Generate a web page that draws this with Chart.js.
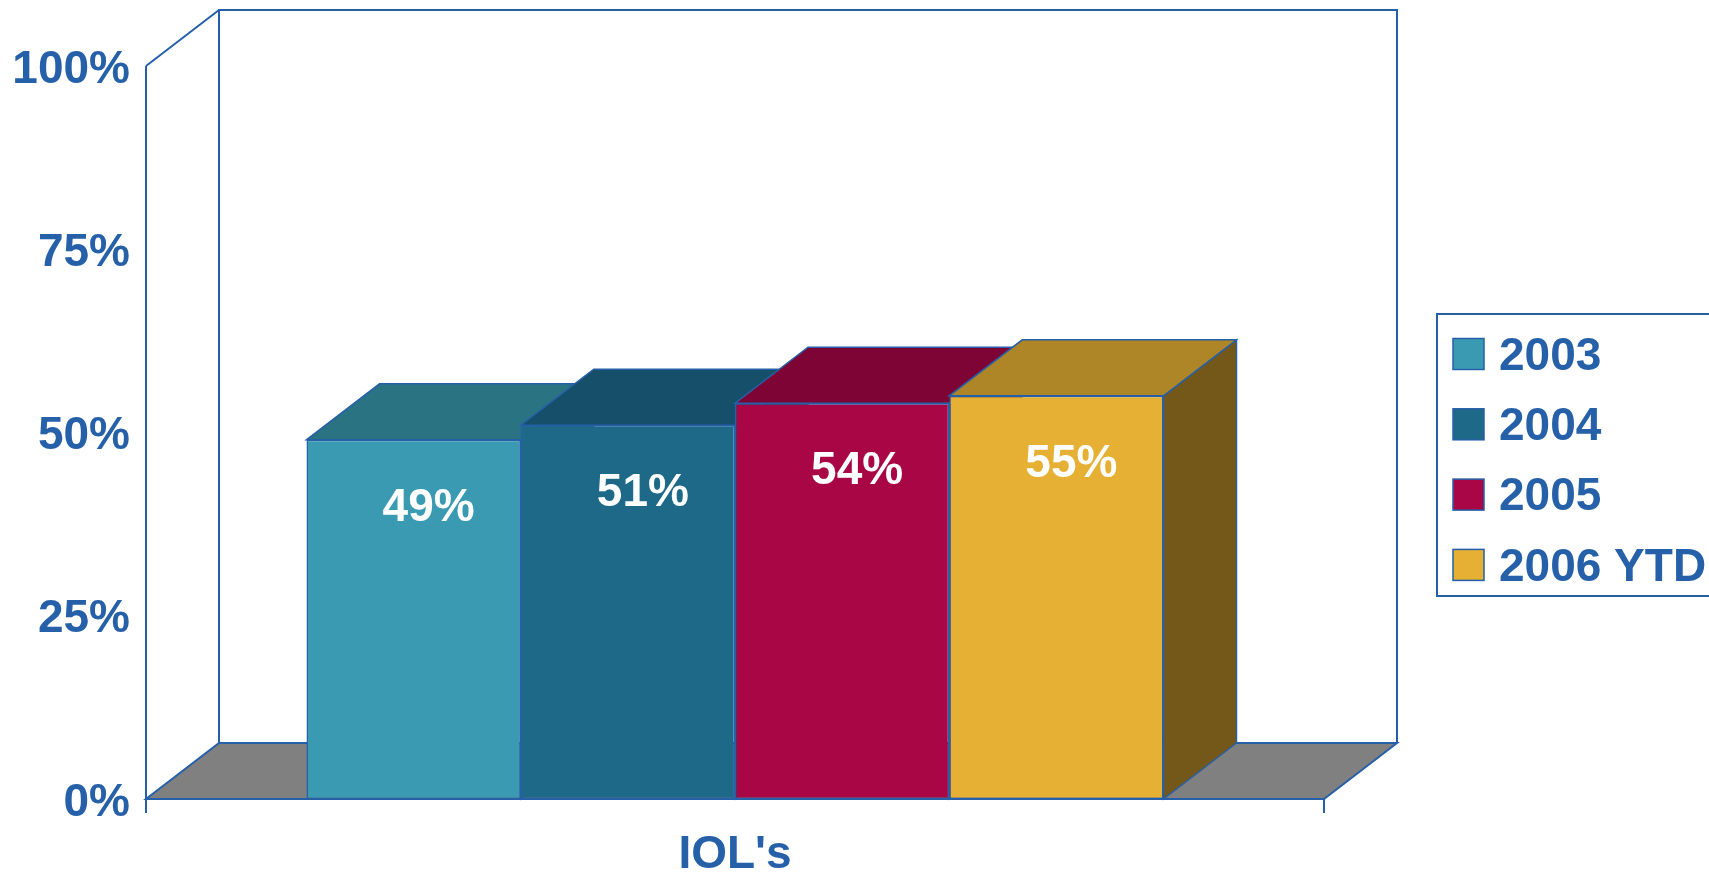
<!DOCTYPE html>
<html>
<head>
<meta charset="utf-8">
<title>IOL's</title>
<script src="https://cdn.jsdelivr.net/npm/chart.js@4.4.1/dist/chart.umd.min.js"></script>
<style>
  html, body { margin: 0; padding: 0; background: #ffffff; overflow: hidden; }
  canvas { display: block; }
</style>
</head>
<body>
<canvas id="chart" width="1709" height="872"></canvas>
<script>
// データ
const categories = ["IOL's"];
const seriesNames = ['2003', '2004', '2005', '2006 YTD'];
const seriesValues = [49, 51, 54, 55];
const yTicks = [0, 25, 50, 75, 100];

// 色
const frontColors = ['#3A9AB2', '#1E6888', '#A80644', '#E5B034'];
const topColors = ['#2A7383', '#164F6A', '#7E0436', '#AE8627'];
const sideColors = ['#236373', '#12405A', '#66032C', '#73581A'];
const lineColor = '#2560A8';
const floorColor = '#808080';
const fontFamily = '"Liberation Sans", Arial, Helvetica, sans-serif';

// 奥行き
const DX = 73;
const DY = 56;

function poly(ctx, pts, fill) {
    ctx.beginPath();
    ctx.moveTo(pts[0][0], pts[0][1]);
    for (let i = 1; i < pts.length; i++) ctx.lineTo(pts[i][0], pts[i][1]);
    ctx.closePath();
    if (fill) {
        ctx.fillStyle = fill;
        ctx.fill();
    }
    ctx.stroke();
}

// 壁・床・棒の上面と側面
const box3d = {
    id: 'box3d',
    beforeDatasetsDraw(chart) {
        const { ctx, chartArea: a } = chart;
        ctx.save();
        ctx.strokeStyle = lineColor;
        ctx.lineWidth = 2;
        ctx.lineJoin = 'miter';

        // 床
        poly(ctx, [
            [a.left, a.bottom], [a.right, a.bottom],
            [a.right + DX, a.bottom - DY], [a.left + DX, a.bottom - DY]
        ], floorColor);

        ctx.beginPath();
        // 奥の壁
        ctx.moveTo(a.left + DX, a.bottom - DY);
        ctx.lineTo(a.left + DX, a.top - DY);
        ctx.lineTo(a.right + DX, a.top - DY);
        ctx.lineTo(a.right + DX, a.bottom - DY);
        // 左の壁
        ctx.moveTo(a.left, a.top);
        ctx.lineTo(a.left + DX, a.top - DY);
        // 縦軸と目盛り
        ctx.moveTo(a.left, a.top);
        ctx.lineTo(a.left, a.bottom + 14);
        ctx.moveTo(a.right, a.bottom);
        ctx.lineTo(a.right, a.bottom + 14);
        ctx.stroke();

        ctx.lineWidth = 1.5;
        chart.data.datasets.forEach((ds, i) => {
            const bar = chart.getDatasetMeta(i).data[0];
            const { x, y, base, width } = bar.getProps(['x', 'y', 'base', 'width'], true);
            const x0 = x - width / 2;
            const x1 = x + width / 2;
            poly(ctx, [[x1, y], [x1 + DX, y - DY], [x1 + DX, base - DY], [x1, base]], sideColors[i]);
            poly(ctx, [[x0, y], [x1, y], [x1 + DX, y - DY], [x0 + DX, y - DY]], topColors[i]);
        });
        ctx.restore();
    },
    afterDatasetsDraw(chart) {
        const { ctx } = chart;
        ctx.save();
        ctx.fillStyle = '#ffffff';
        ctx.font = 'bold 46px ' + fontFamily;
        ctx.textAlign = 'center';
        ctx.textBaseline = 'middle';
        chart.data.datasets.forEach((ds, i) => {
            const bar = chart.getDatasetMeta(i).data[0];
            const { x, y } = bar.getProps(['x', 'y'], true);
            ctx.fillText(ds.data[0] + '%', x + 15, y + 68);
        });
        ctx.restore();
    },
    afterDraw(chart) {
        // 凡例
        const { ctx } = chart;
        ctx.save();
        ctx.strokeStyle = lineColor;
        ctx.lineWidth = 2;
        ctx.strokeRect(1437, 314, 320, 282);
        ctx.font = 'bold 46px ' + fontFamily;
        ctx.textAlign = 'left';
        ctx.textBaseline = 'middle';
        chart.data.datasets.forEach((ds, i) => {
            const cy = 354 + i * 70.3;
            ctx.fillStyle = frontColors[i];
            ctx.fillRect(1453, cy - 15.5, 31, 31);
            ctx.lineWidth = 1.5;
            ctx.strokeRect(1453, cy - 15.5, 31, 31);
            ctx.fillStyle = lineColor;
            ctx.fillText(ds.label, 1499, cy + 3);
        });
        ctx.restore();
    }
};

const ctx = document.getElementById('chart').getContext('2d');
const chart = new Chart(ctx, {
    type: 'bar',
    data: {
        labels: categories,
        datasets: seriesNames.map((name, i) => ({
            label: name,
            data: [seriesValues[i]],
            backgroundColor: frontColors[i],
            borderColor: lineColor,
            borderWidth: 1.5,
            borderSkipped: false
        }))
    },
    options: {
        responsive: false,
        animation: false,
        layout: { padding: { left: 0, top: 66, right: 385, bottom: 0 } },
        datasets: {
            bar: { categoryPercentage: 0.7275, barPercentage: 1 }
        },
        plugins: {
            legend: { display: false },
            tooltip: { enabled: false }
        },
        scales: {
            x: {
                grid: { display: false, drawTicks: false },
                border: { display: false },
                ticks: {
                    color: lineColor,
                    padding: 29,
                    font: { family: fontFamily, size: 46, weight: 'bold' }
                },
                afterFit(scale) { scale.height = 73; }
            },
            y: {
                min: 0,
                max: 100,
                afterBuildTicks(scale) {
                    scale.ticks = yTicks.map(v => ({ value: v }));
                },
                grid: { display: false, drawTicks: false },
                border: { display: false },
                ticks: {
                    color: lineColor,
                    padding: 16,
                    labelOffset: 4,
                    font: { family: fontFamily, size: 46, weight: 'bold' },
                    callback: v => v + '%'
                },
                afterFit(scale) { scale.width = 146; }
            }
        }
    },
    plugins: [box3d]
});
</script>
</body>
</html>
